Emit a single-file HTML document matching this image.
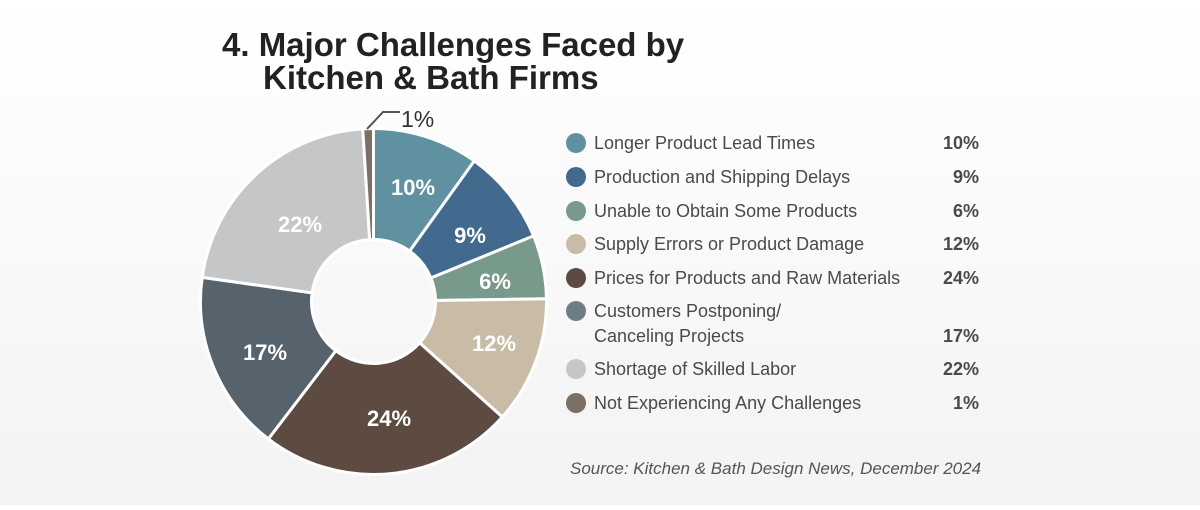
<!DOCTYPE html>
<html><head><meta charset="utf-8"><style>
body{margin:0;width:1200px;height:505px;overflow:hidden;background:linear-gradient(#ffffff,#f3f3f3);font-family:"Liberation Sans",sans-serif;}
</style></head><body>
<svg id="s" width="1200" height="505" xmlns="http://www.w3.org/2000/svg">
<text x="222" y="56" font-size="33" font-weight="bold" fill="#222">4. Major Challenges Faced by</text>
<text x="263" y="89" font-size="33" font-weight="bold" fill="#222">Kitchen &amp; Bath Firms</text>
<g id="pie"></g>
<polyline points="367,129 383,112 400,112" fill="none" stroke="#555" stroke-width="2"/>
<text x="401" y="127" font-size="23" fill="#333">1%</text>
<g font-size="22" font-weight="bold" fill="#fff" text-anchor="middle">
<text x="413" y="195">10%</text><text x="470" y="243">9%</text><text x="495" y="289">6%</text>
<text x="494" y="351">12%</text><text x="389" y="426">24%</text><text x="265" y="360">17%</text>
<text x="300" y="232">22%</text></g>
<g font-size="18" fill="#4a4a4a">
<circle cx="576" cy="143" r="10" fill="#5f91a1"/><text x="594" y="149">Longer Product Lead Times</text><text x="979" y="149" text-anchor="end" font-weight="bold">10%</text>
<circle cx="576" cy="177" r="10" fill="#416a8e"/><text x="594" y="183">Production and Shipping Delays</text><text x="979" y="183" text-anchor="end" font-weight="bold">9%</text>
<circle cx="576" cy="211" r="10" fill="#789a8a"/><text x="594" y="217">Unable to Obtain Some Products</text><text x="979" y="217" text-anchor="end" font-weight="bold">6%</text>
<circle cx="576" cy="244" r="10" fill="#c9bca7"/><text x="594" y="250">Supply Errors or Product Damage</text><text x="979" y="250" text-anchor="end" font-weight="bold">12%</text>
<circle cx="576" cy="278" r="10" fill="#5d4a41"/><text x="594" y="284">Prices for Products and Raw Materials</text><text x="979" y="284" text-anchor="end" font-weight="bold">24%</text>
<circle cx="576" cy="311" r="10" fill="#6e7e89"/><text x="594" y="317">Customers Postponing/</text><text x="594" y="342">Canceling Projects</text><text x="979" y="342" text-anchor="end" font-weight="bold">17%</text>
<circle cx="576" cy="369" r="10" fill="#c5c6c8"/><text x="594" y="375">Shortage of Skilled Labor</text><text x="979" y="375" text-anchor="end" font-weight="bold">22%</text>
<circle cx="576" cy="403" r="10" fill="#7b7066"/><text x="594" y="409">Not Experiencing Any Challenges</text><text x="979" y="409" text-anchor="end" font-weight="bold">1%</text>
</g>
<text x="570" y="474" font-size="17" font-style="italic" fill="#555">Source: Kitchen &amp; Bath Design News, December 2024</text>
</svg>
<script>
var v=[10,9,6,12,24,17,22,1],c=["#5f91a1","#416a8e","#789a8a","#c9bca7","#5d4a41","#56636c","#c5c6c8","#7b7066"];
var cx=373.5,cy=301.5,R=173,r=62,a=0,h="";
function p(rad,ang){return [cx+rad*Math.sin(ang),cy-rad*Math.cos(ang)];}
for(var i=0;i<8;i++){var b=a+v[i]/101*2*Math.PI,l=(b-a)>Math.PI?1:0;
var A=p(R,a),B=p(R,b),C=p(r,b),D=p(r,a);
h+='<path d="M'+A+' A'+R+','+R+' 0 '+l+' 1 '+B+' L'+C+' A'+r+','+r+' 0 '+l+' 0 '+D+'Z" fill="'+c[i]+'" stroke="#fff" stroke-width="3"/>';a=b;}
document.getElementById("pie").innerHTML=h;
</script>
</body></html>
